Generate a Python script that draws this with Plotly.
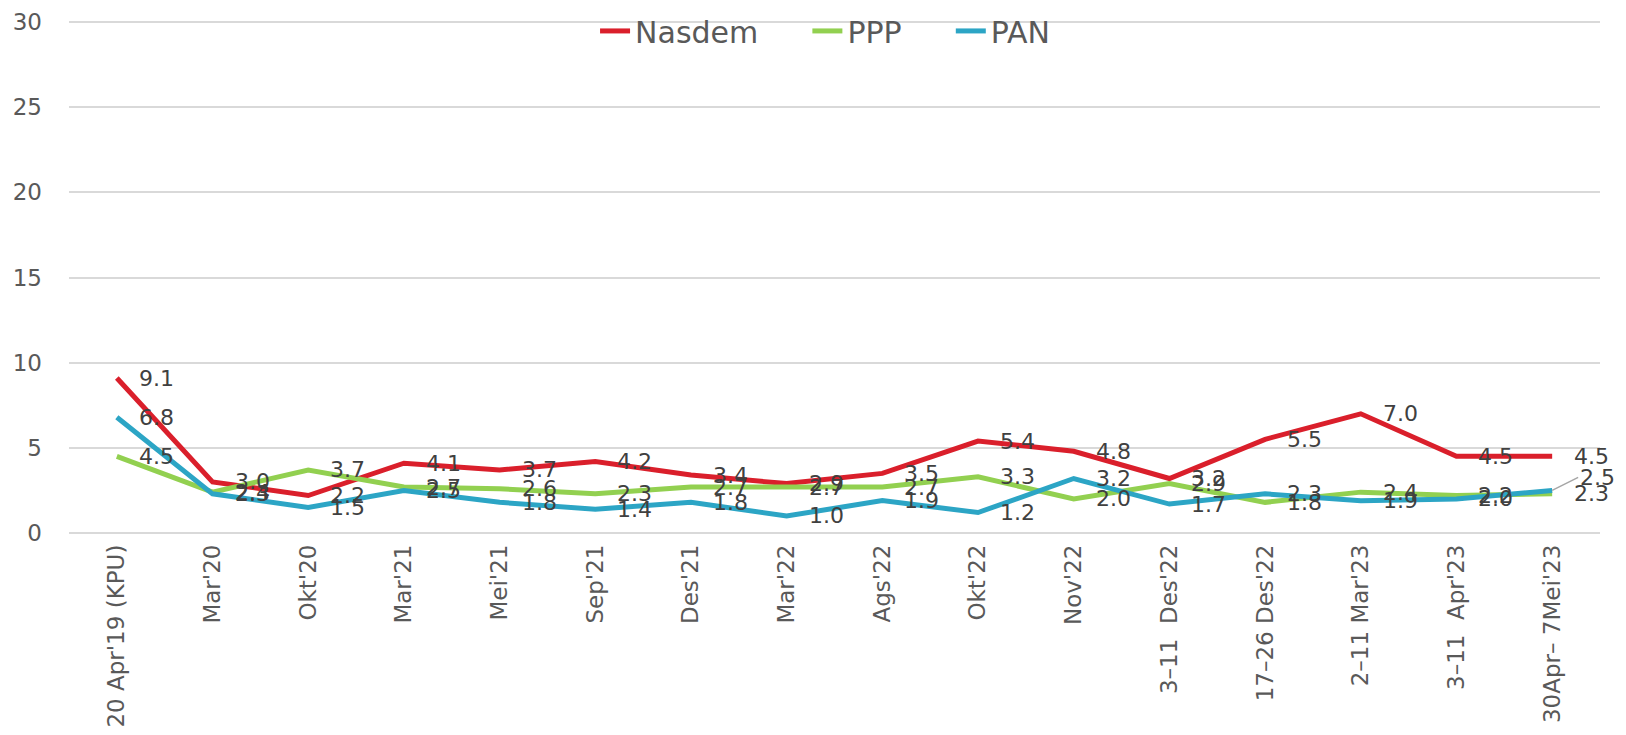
import plotly.graph_objects as go

categories = ["20 Apr'19 (KPU)", "Mar'20", "Okt'20", "Mar'21", "Mei'21", "Sep'21", "Des'21",
              "Mar'22", "Ags'22", "Okt'22", "Nov'22", "3\u201311  Des'22", "17\u201326 Des'22",
              "2\u201311 Mar'23", "3\u201311  Apr'23", "30Apr\u2013 7Mei'23"]
nasdem = [9.1, 3.0, 2.2, 4.1, 3.7, 4.2, 3.4, 2.9, 3.5, 5.4, 4.8, 3.2, 5.5, 7.0, 4.5, 4.5]
ppp = [4.5, 2.4, 3.7, 2.7, 2.6, 2.3, 2.7, 2.7, 2.7, 3.3, 2.0, 2.9, 1.8, 2.4, 2.2, 2.3]
pan = [6.8, 2.3, 1.5, 2.5, 1.8, 1.4, 1.8, 1.0, 1.9, 1.2, 3.2, 1.7, 2.3, 1.9, 2.0, 2.5]
y_ticks = [0, 5, 10, 15, 20, 25, 30]

FONT = "DejaVu Sans"
LABEL_COLOR = "#404040"
NB = "\u00a0"
GAP = NB * 4 + "\u2009"

fig = go.Figure()
series = [("Nasdem", nasdem, "#DA1F2B", GAP), ("PPP", ppp, "#92D050", GAP),
          ("PAN", pan, "#2CA5C5", "")]
for name, vals, color, pad in series:
    fig.add_trace(go.Scatter(
        x=categories, y=vals, name=name + pad, mode="lines",
        line=dict(color=color, width=5),
        hoverinfo="x+y",
    ))
    for i, v in enumerate(vals):
        last_pan = (name == "PAN" and i == len(vals) - 1)
        if last_pan:
            fig.add_annotation(x=categories[i], y=v, text=f"{v:.1f}",
                               showarrow=True, arrowhead=0, arrowcolor="#A6A6A6",
                               arrowwidth=1.5, ax=26, ay=-13, xanchor="left",
                               yanchor="middle",
                               font=dict(family=FONT, size=22, color=LABEL_COLOR))
        else:
            fig.add_annotation(x=categories[i], y=v, text=f"{v:.1f}", showarrow=False,
                               xanchor="left", yanchor="middle", xshift=20,
                               font=dict(family=FONT, size=22, color=LABEL_COLOR))

fig.update_layout(
    width=1626, height=735,
    margin=dict(l=61, r=34, t=9, b=210, autoexpand=False),
    paper_bgcolor="white", plot_bgcolor="white",
    font=dict(family=FONT, color="#595959"),
    showlegend=True,
    legend=dict(orientation="h", x=0.3436, xanchor="left", y=0.973, yanchor="middle",
                font=dict(family=FONT, size=30, color="#595959"),
                bgcolor="rgba(0,0,0,0)"),
    xaxis=dict(type="category", tickangle=-90, showgrid=False, showline=False,
               automargin=False,
               tickfont=dict(family=FONT, size=23, color="#595959"),
               ticklabelstandoff=6, range=[-0.5, len(categories) - 0.5]),
    yaxis=dict(range=[0, 30.3], tickvals=y_ticks, showgrid=True, gridcolor="#D9D9D9",
               gridwidth=1.5, zeroline=True, zerolinecolor="#D9D9D9", zerolinewidth=1.5,
               automargin=False,
               tickfont=dict(family=FONT, size=23, color="#595959"),
               ticklabelstandoff=26),
)

fig.write_html("out.html")
